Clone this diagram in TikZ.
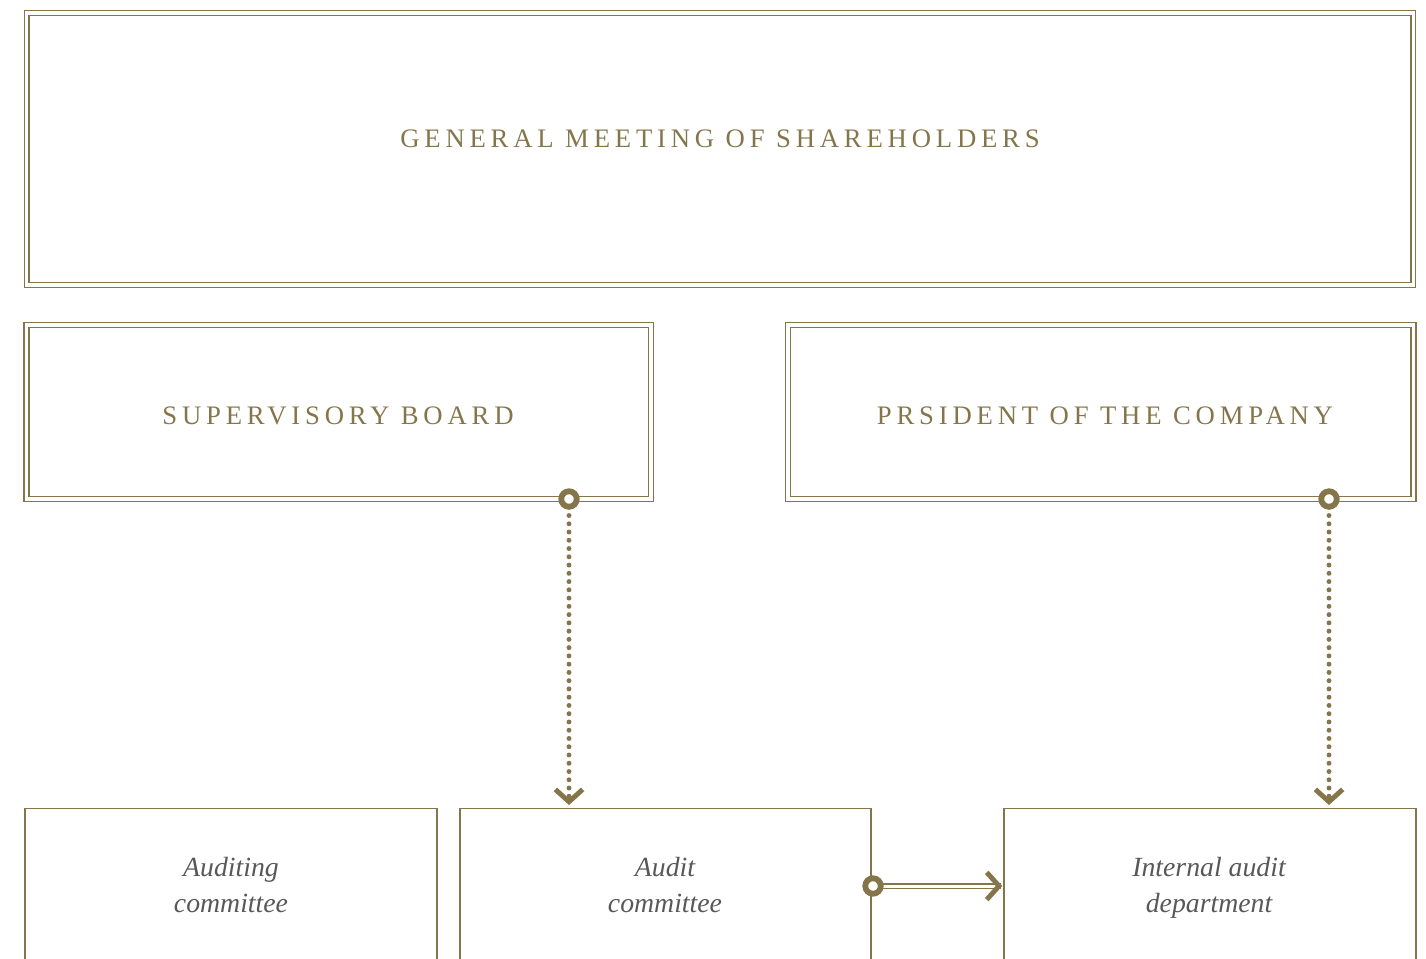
\documentclass[tikz,border=0pt]{standalone}
\usepackage{fontspec}
\setmainfont{Liberation Serif}
\newfontfamily\capsfont[LetterSpace=18]{Liberation Serif}
\usetikzlibrary{arrows.meta}

\definecolor{gold}{RGB}{133,117,74}
\definecolor{ink}{RGB}{88,88,88}

\tikzset{
  dblbox/.style={draw=gold, double=white, line width=0.7pt, double distance=2.1pt,
    inner sep=0pt},
  box/.style={draw=gold, line width=0.75pt, inner sep=0pt, minimum height=4cm},
  caps/.style={text=gold, font=\capsfont\fontsize{15.2}{18}\selectfont},
  ital/.style={text=ink, align=center, font=\itshape\fontsize{15.8}{20.5}\selectfont},
  ring/.style={circle, draw=gold, fill=white, line width=3.3pt, inner sep=0pt,
    minimum size=0.31cm},
  dots/.style={draw=gold, line width=2.8pt, line cap=round,
    dash pattern=on 0pt off 4.7pt},
  chev/.style={draw=gold, -{Straight Barb[length=7pt, width=15.5pt, line width=2.8pt]}},
  dbl/.style={draw=gold, double=white, line width=0.7pt, double distance=1.7pt}
}

\begin{document}
\begin{tikzpicture}[x=0.02cm, y=-0.02cm]
\useasboundingbox (0,0) rectangle (1426,959);

\node[dblbox, minimum width=27.74cm, minimum height=5.44cm] (gm) at (720,149) {};
\node[caps] (gmt) at (720,139) {GENERAL MEETING OF SHAREHOLDERS};

\node[dblbox, minimum width=12.49cm, minimum height=3.48cm] (sb) at (338.75,412) {};
\node[caps] (sbt) at (338,416) {SUPERVISORY BOARD};

\node[dblbox, minimum width=12.51cm, minimum height=3.48cm] (pr) at (1100.75,412) {};
\node[caps] (prt) at (1105,416) {PRSIDENT OF THE COMPANY};

\node[box, minimum width=8.24cm] (ac1) at (231,908.5) {};
\node[box, minimum width=8.22cm] (ac2) at (665.5,908.5) {};
\node[box, minimum width=8.24cm] (ia) at (1210,908.5) {};
\node[ital] (ac1t) at (231,885) {Auditing\\committee};
\node[ital] (ac2t) at (665,885) {Audit\\committee};
\node[ital] (iat) at (1209,888) {Internal audit\\department};

\coordinate (r1) at (569,499);
\coordinate (r2) at (1329,499);
\coordinate (r3) at (873,886);

\draw[dots] (r1) -- ([yshift=6pt]r1 |- ac2.north);
\draw[chev] ([yshift=2pt]r1 |- ac2.north) -- ([yshift=1.6pt]r1 |- ac2.north);
\draw[dots] (r2) -- ([yshift=6pt]r2 |- ia.north);
\draw[chev] ([yshift=2pt]r2 |- ia.north) -- ([yshift=1.6pt]r2 |- ia.north);
\draw[dbl] (r3) -- ([xshift=-1.5pt]r3 -| ia.west);
\draw[chev] ([xshift=-1.5pt]r3 -| ia.west) -- ([xshift=-0.6pt]r3 -| ia.west);

\node[ring] (c1) at (r1) {};
\node[ring] (c2) at (r2) {};
\node[ring] (c3) at (r3) {};
\end{tikzpicture}
\end{document}
